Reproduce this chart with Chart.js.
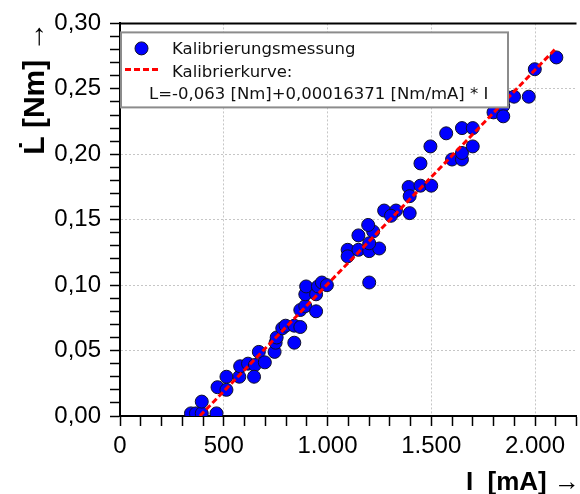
<!DOCTYPE html>
<html>
<head>
<meta charset="utf-8">
<title>Kalibrierung</title>
<script src="https://cdn.jsdelivr.net/npm/chart.js@4.4.1/dist/chart.umd.min.js"></script>
<style>
  html, body { margin: 0; padding: 0; background: #fff; overflow: hidden; }
  canvas { display: block; }
</style>
</head>
<body>
<canvas id="calChart" width="584" height="494"></canvas>
<script>
// --- measured points: motor current I [mA] and torque L [Nm] ---
const currentMA = [
  342, 366, 394, 465, 394, 470, 513, 513, 575, 579,
  617, 650, 646, 669, 698, 745, 750, 755, 782, 798,
  840, 869, 840, 869, 893, 945, 893, 897, 945, 954,
  973, 997, 1201, 1097, 1097, 1149, 1201, 1249, 1201, 1149,
  1220, 1196, 1273, 1330, 1306, 1396, 1391, 1396, 1448, 1500,
  1448, 1496, 1572, 1600, 1648, 1648, 1648, 1700, 1700, 1800,
  1847, 1847, 1861, 1899, 1970, 1999, 2103
];
const torqueNm = [
  0.002, 0.002, 0.002, 0.002, 0.011, 0.022, 0.020, 0.030, 0.030, 0.038,
  0.040, 0.039, 0.030, 0.049, 0.041, 0.049, 0.056, 0.060, 0.067, 0.069,
  0.069, 0.068, 0.056, 0.081, 0.084, 0.080, 0.093, 0.099, 0.093, 0.099,
  0.102, 0.100, 0.102, 0.127, 0.122, 0.127, 0.126, 0.128, 0.132, 0.138,
  0.141, 0.146, 0.157, 0.157, 0.153, 0.155, 0.175, 0.168, 0.176, 0.176,
  0.193, 0.206, 0.216, 0.196, 0.196, 0.201, 0.220, 0.220, 0.206, 0.232,
  0.237, 0.229, 0.244, 0.244, 0.244, 0.265, 0.274
];

// calibration curve L = a + b * I, drawn between these currents
const fitIntercept = -0.063;
const fitSlope = 0.00016371;
const fitRange = [385, 2100];

const seriesNames = ['Kalibrierungsmessung', 'Kalibrierkurve:'];
const xTickLabels = ['0', '500', '1.000', '1.500', '2.000'];
const yTickLabels = ['0,00', '0,05', '0,10', '0,15', '0,20', '0,25', '0,30'];
const axisTitles = { x: 'I  [mA] \u2192', y: 'L\u0307 [Nm] \u2192' };

const deNum = v => String(v).replace('.', ',');
const fitText = `L=${deNum(fitIntercept)} [Nm]+${deNum(fitSlope)} [Nm/mA] * I`;

const measured = currentMA.map((x, i) => ({ x, y: torqueNm[i] }));
const fitLine = fitRange.map(x => ({ x, y: fitIntercept + fitSlope * x }));

const tickFont = { family: '"Liberation Sans", Arial, sans-serif', size: 24 };
const gridColor = ctx => (ctx.index > 0 && ctx.index % 5 === 0) ? '#c6c6c6' : 'rgba(0,0,0,0)';

// top edge of the plot frame
const plotFrame = {
  id: 'plotFrame',
  beforeDatasetsDraw(chart) {
    const { ctx, chartArea } = chart;
    ctx.save();
    ctx.strokeStyle = '#000';
    ctx.lineWidth = 2;
    ctx.beginPath();
    ctx.moveTo(chartArea.left, chartArea.top);
    ctx.lineTo(chartArea.right, chartArea.top);
    ctx.stroke();
    ctx.restore();
  }
};

// legend box inside the plot, on top of the points
const legendBox = {
  id: 'legendBox',
  afterDatasetsDraw(chart) {
    const { ctx, chartArea } = chart;
    const x0 = chartArea.left, y0 = chartArea.top + 9;
    ctx.save();
    ctx.fillStyle = '#fff';
    ctx.fillRect(x0 + 1, y0, 387, 75);
    ctx.strokeStyle = '#8c8c8c';
    ctx.lineWidth = 2;
    ctx.strokeRect(x0 + 1, y0, 387, 75);

    ctx.beginPath();
    ctx.arc(x0 + 21.5, y0 + 16, 6.5, 0, Math.PI * 2);
    ctx.fillStyle = '#0000ff';
    ctx.fill();
    ctx.lineWidth = 1;
    ctx.strokeStyle = '#10102a';
    ctx.stroke();

    ctx.beginPath();
    ctx.setLineDash([6, 3]);
    ctx.lineWidth = 3;
    ctx.strokeStyle = '#ff0000';
    ctx.moveTo(x0 + 5, y0 + 37);
    ctx.lineTo(x0 + 41, y0 + 37);
    ctx.stroke();
    ctx.setLineDash([]);

    ctx.fillStyle = '#111';
    ctx.font = '16.5px "DejaVu Sans", sans-serif';
    ctx.textBaseline = 'alphabetic';
    ctx.fillText(seriesNames[0], x0 + 52, y0 + 22);
    ctx.fillText(seriesNames[1], x0 + 52, y0 + 45);
    ctx.fillText(fitText, x0 + 29, y0 + 67);
    ctx.restore();
  }
};

// axis titles with arrows
const axisTitleText = {
  id: 'axisTitleText',
  afterDraw(chart) {
    const { ctx, chartArea } = chart;
    ctx.save();
    ctx.fillStyle = '#000';
    ctx.textBaseline = 'alphabetic';
    ctx.textAlign = 'right';

    ctx.font = 'bold 26px "Liberation Sans", Arial, sans-serif';
    ctx.fillText(axisTitles.x, 580, 490);

    ctx.font = 'bold 30px "Liberation Sans", Arial, sans-serif';
    ctx.translate(44, chartArea.top - 2);
    ctx.rotate(-Math.PI / 2);
    ctx.fillText(axisTitles.y, 0, 0);
    ctx.restore();
  }
};

const ctx = document.getElementById('calChart').getContext('2d');
const chart = new Chart(ctx, {
  type: 'scatter',
  data: {
    datasets: [
      {
        label: seriesNames[1],
        data: fitLine,
        showLine: true,
        borderColor: '#ff0000',
        borderWidth: 3,
        borderDash: [6, 3],
        pointRadius: 0,
        clip: 0,
        order: 0
      },
      {
        label: seriesNames[0],
        data: measured,
        backgroundColor: '#0000ff',
        borderColor: '#10102a',
        borderWidth: 1,
        pointRadius: 6.5,
        clip: 0,
        order: 1
      }
    ]
  },
  options: {
    responsive: false,
    animation: false,
    layout: { padding: { top: 17, left: 0, right: 0, bottom: 0 } },
    plugins: {
      legend: { display: false },
      tooltip: { enabled: false }
    },
    scales: {
      x: {
        type: 'linear',
        position: 'bottom',
        min: 0,
        max: 2200,
        afterFit(scale) { scale.height = 78; },
        border: { display: true, color: '#000', width: 2, dash: [2, 2] },
        grid: { color: gridColor, lineWidth: 1, tickColor: '#000', tickWidth: 1.5, tickLength: 10, tickBorderDash: [] },
        ticks: {
          stepSize: 100,
          includeBounds: false,
          autoSkip: false,
          maxRotation: 0,
          padding: 6,
          color: '#000',
          font: tickFont,
          callback: (v, i) => (i % 5 === 0 ? (xTickLabels[i / 5] || '') : '')
        }
      },
      y: {
        type: 'linear',
        position: 'left',
        min: 0,
        max: 0.3,
        afterFit(scale) { scale.width = 120; },
        border: { display: true, color: '#000', width: 2, dash: [2, 2] },
        grid: { color: gridColor, lineWidth: 1, tickColor: '#000', tickWidth: 1.5, tickLength: 10, tickBorderDash: [] },
        ticks: {
          stepSize: 0.01,
          includeBounds: false,
          autoSkip: false,
          padding: 9,
          color: '#000',
          font: tickFont,
          callback: (v, i) => (i % 5 === 0 ? (yTickLabels[i / 5] || '') : '')
        }
      }
    }
  },
  plugins: [plotFrame, legendBox, axisTitleText]
});
</script>
</body>
</html>
